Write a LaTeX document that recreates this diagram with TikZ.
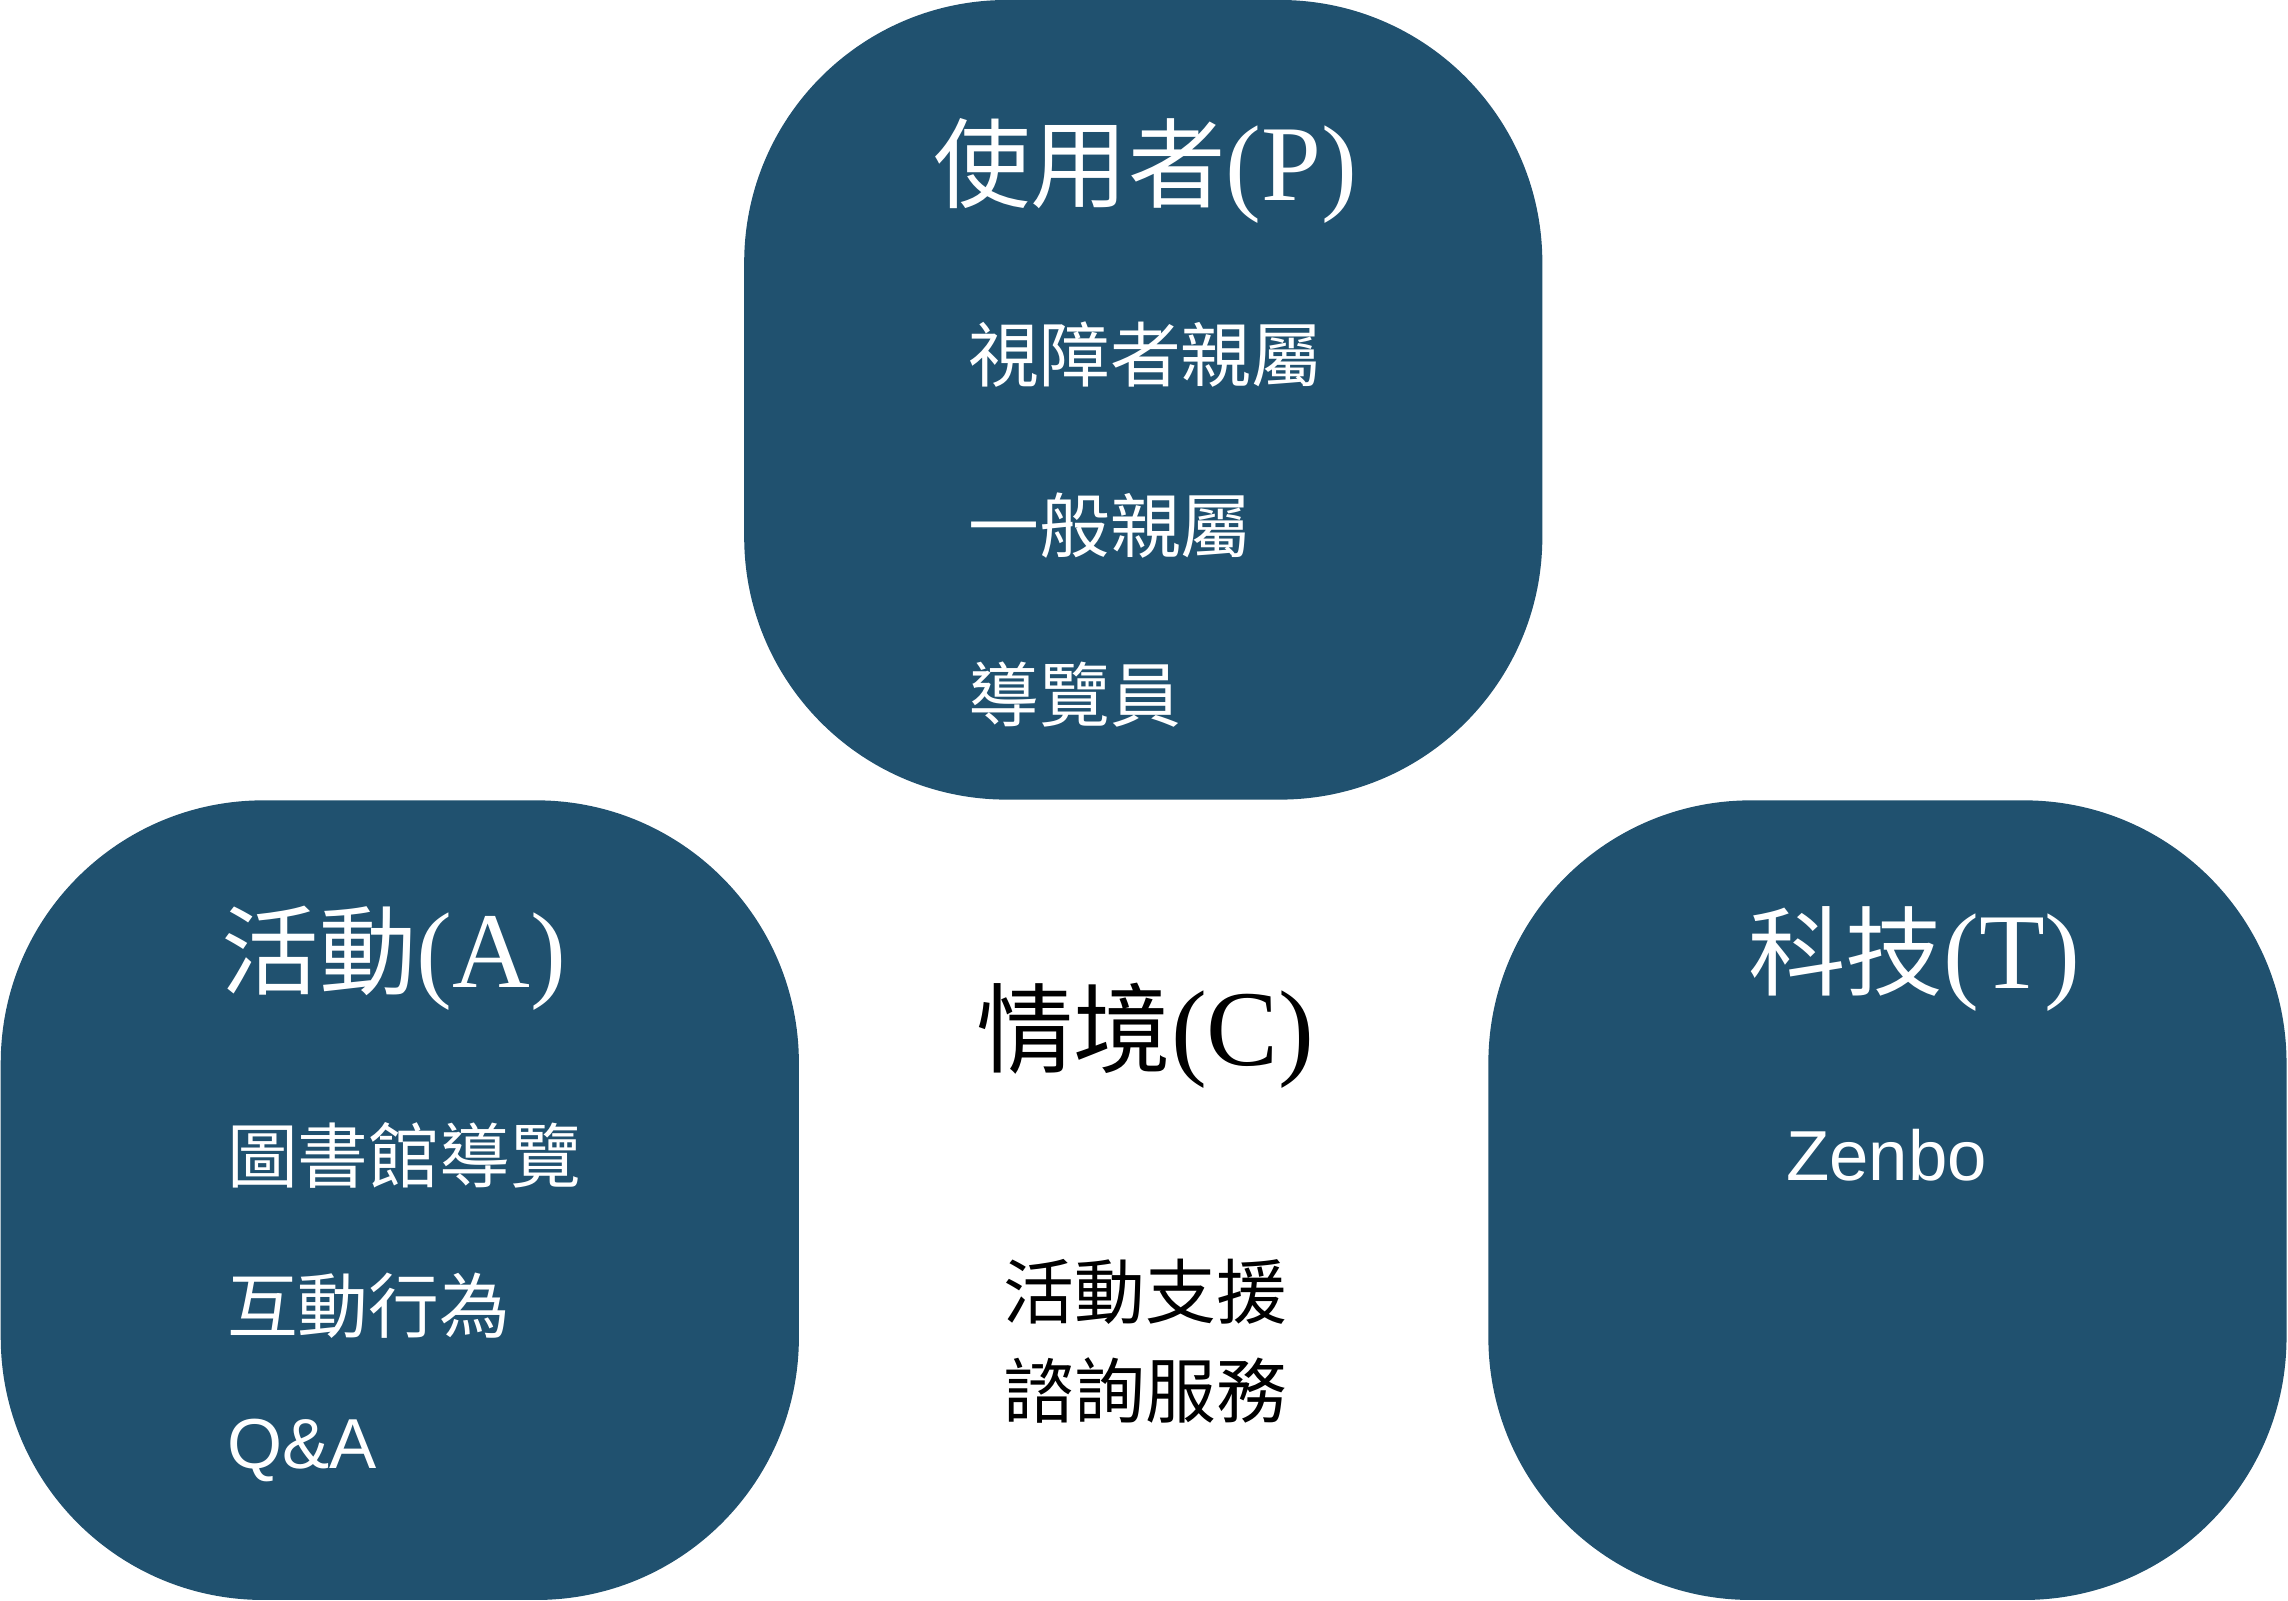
\documentclass[tikz,border=0pt]{standalone}
\usepackage{fontspec}
\setmainfont{Liberation Serif}
\setsansfont{Liberation Sans}
\newfontfamily\cjk{Noto Sans CJK TC}
\definecolor{pactblue}{RGB}{32,81,111}
\newcommand{\tlatin}[1]{{\fontsize{21}{24}\selectfont #1}}

\begin{document}
\begin{tikzpicture}[x=0.1mm,y=-0.1mm]
\tikzset{
  group/.style={fill=pactblue, draw=none, rounded corners=18mm, minimum width=54.7mm, minimum height=54.8mm, inner sep=0pt},
  title/.style={font=\fontsize{19}{22}\selectfont, inner sep=0pt},
  item/.style={font=\fontsize{13.8}{16}\selectfont\cjk, inner sep=0pt, anchor=west, text=white},
  latin/.style={font=\fontsize{13.8}{16}\selectfont\sffamily, inner sep=0pt, text=white}
}
\useasboundingbox (0,0) rectangle (1568,1097);
% three groups
\node[group] (P) at (783.5,274) {};
\node[group] (A) at (274,822.5) {};
\node[group] (T) at (1293.5,822.5) {};
% user
\node[title, text=white] (Ptitle) at (785,117) {{\cjk 使用者}\tlatin{(P)}};
\node[item] (P1) at (663,243) {視障者親屬};
\node[item] (P2) at (663,360) {一般親屬};
\node[item] (P3) at (663,476) {導覽員};
% activity
\node[title, text=white] (Atitle) at (270,657) {{\cjk 活動}\tlatin{(A)}};
\node[item] (A1) at (155,792) {圖書館導覽};
\node[item] (A2) at (155,895) {互動行為};
\node[latin, anchor=west] (A3) at (155,994) {Q\&A};
% technology
\node[title, text=white] (Ttitle) at (1312,657) {{\cjk 科技}\tlatin{(T)}};
\node[latin] (T1) at (1293,792) {Zenbo};
% context
\node[title] (C) at (785,710) {{\cjk 情境}\tlatin{(C)}};
\node[item, anchor=center, text=black] (C1) at (785,885) {活動支援};
\node[item, anchor=center, text=black] (C2) at (785,953) {諮詢服務};
\end{tikzpicture}
\end{document}
